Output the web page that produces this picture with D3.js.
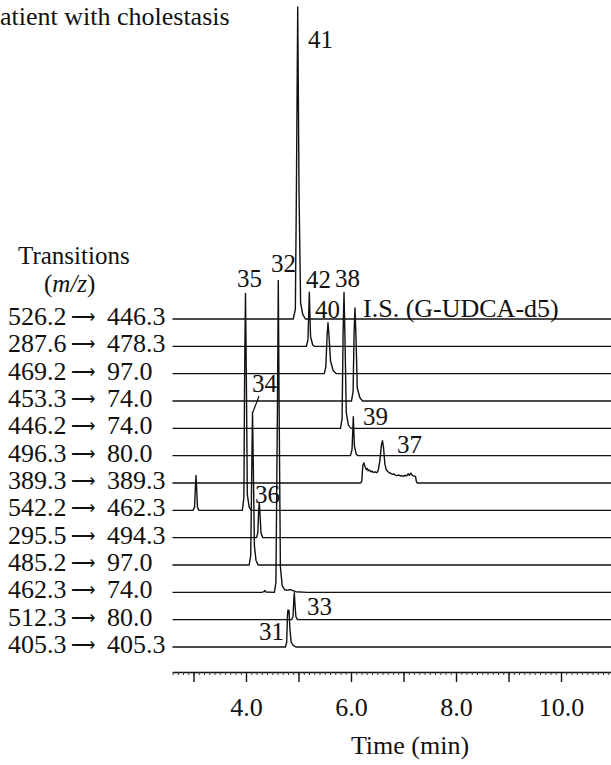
<!DOCTYPE html>
<html>
<head>
<meta charset="utf-8">
<script src="https://cdn.jsdelivr.net/npm/d3@7"></script>
<style>
  body { margin: 0; background: #fff; }
  text { font-family: "Liberation Serif", "Times New Roman", serif; fill: #111; }
</style>
</head>
<body>
<svg id="chart"></svg>
<script>
// Config
const width = 611;
const height = 765;

// MRM transitions, top to bottom
const precursors = ["526.2", "287.6", "469.2", "453.3", "446.2", "496.3", "389.3",
  "542.2", "295.5", "485.2", "462.3", "512.3", "405.3"];
const products = ["446.3", "478.3", "97.0", "74.0", "74.0", "80.0", "389.3",
  "462.3", "494.3", "97.0", "74.0", "80.0", "405.3"];

// trace points per transition: [time (min), intensity]
const trace0 = [[4.90, 0], [4.94, 3], [4.96, 40], [4.985, 97.5], [5.01, 40], [5.04, 5], [5.08, 1.5], [5.13, 0]];
const trace1 = [[5.15, 0], [5.18, 2], [5.206, 16.9], [5.23, 3], [5.27, 0.5], [5.30, 0]];
const trace2 = [[5.49, 0], [5.52, 2], [5.545, 12], [5.562, 15.9], [5.58, 12], [5.61, 4], [5.66, 1], [5.72, 0]];
const trace3 = [[6.01, 0], [6.04, 3], [6.06, 22], [6.076, 29.1], [6.095, 20], [6.12, 4], [6.17, 1], [6.22, 0]];
const trace4 = [[5.80, 0], [5.83, 3], [5.85, 30], [5.867, 42.5], [5.885, 28], [5.91, 5], [5.95, 1], [6.00, 0]];
const trace5 = [[5.99, 0], [6.02, 2], [6.044, 12.2], [6.065, 3], [6.10, 0.5], [6.13, 0]];
const trace6 = [[6.18, 0], [6.205, 0.5], [6.225, 5.5], [6.245, 6.3], [6.27, 5.0], [6.29, 4.2], [6.31, 4.5],
  [6.33, 3.8], [6.35, 4.1], [6.38, 3.5], [6.40, 3.7], [6.43, 3.3], [6.46, 3.5], [6.49, 3.2], [6.52, 4],
  [6.55, 7], [6.58, 12], [6.60, 13.2], [6.62, 11], [6.645, 6], [6.67, 4.2], [6.70, 3.6], [6.73, 3.2],
  [6.76, 3.0], [6.79, 2.7], [6.82, 2.8], [6.85, 2.4], [6.88, 2.3], [6.91, 2.5], [6.94, 2.2], [6.97, 2.3],
  [7.00, 2.1], [7.03, 2.4], [7.06, 2.2], [7.09, 2.9], [7.11, 2.4], [7.14, 3.1], [7.17, 2.3], [7.20, 2.2],
  [7.23, 2.0], [7.245, 0.5], [7.26, 0]];
const trace7 = [[2.99, 0], [3.02, 1], [3.036, 7], [3.048, 10.9], [3.06, 7], [3.075, 1], [3.10, 0],
  [3.93, 0], [3.96, 4], [3.975, 45], [3.99, 67.8], [4.005, 45], [4.025, 5], [4.06, 1], [4.10, 0]];
const trace8 = [[4.20, 0], [4.225, 1.5], [4.24, 8], [4.253, 10.9], [4.268, 7], [4.285, 1.5], [4.32, 0]];
const trace9 = [[4.06, 0], [4.09, 3], [4.11, 30], [4.124, 47.8], [4.14, 30], [4.16, 6], [4.19, 1.5], [4.23, 0]];
const trace10 = [[4.30, 0], [4.34, 0.2], [4.36, 0.6], [4.38, 0.1], [4.54, 0], [4.57, 3], [4.60, 60],
  [4.615, 97.5], [4.63, 60], [4.655, 8], [4.69, 2], [4.74, 0.8], [4.80, 0.6], [4.84, 0.9], [4.88, 0.6],
  [4.95, 0.2], [5.16, 0]];
const trace11 = [[4.87, 0], [4.895, 1], [4.91, 6], [4.92, 8.4], [4.932, 5], [4.95, 1], [4.98, 0]];
const trace12 = [[4.75, 0], [4.775, 1.5], [4.79, 10], [4.80, 11.6], [4.81, 10.5], [4.82, 11.4], [4.835, 6],
  [4.86, 1.5], [4.90, 0.5], [4.95, 0]];
const traces = [trace0, trace1, trace2, trace3, trace4, trace5, trace6, trace7, trace8, trace9, trace10, trace11, trace12];

// peak labels: [text, time of left edge, trace index, intensity of text baseline]
const peakLabels = [
  ["41", 5.181, 0, 84.7], ["35", 3.829, 7, 69.7], ["32", 4.476, 10, 100], ["42", 5.143, 1, 18.1],
  ["38", 5.695, 4, 44.1], ["40", 5.314, 2, 17.5], ["I.S. (G-UDCA-d5)", 6.229, 3, 26.3],
  ["34", 4.114, 9, 54.1], ["39", 6.229, 5, 9.7], ["37", 6.876, 6, 9.4], ["36", 4.171, 8, 10.9],
  ["33", 5.162, 11, 1.6], ["31", 4.248, 12, 2.2]
];
// leader for 34: [time, intensity] pairs on trace 9
const leader34 = [[4.248, 52.8], [4.133, 47.8]];

const timeDomain = [2.6, 11];
const majorTicks = [3, 4, 5, 6, 7, 8, 9, 10, 11];
const tickLabels = { 4: "4.0", 6: "6.0", 8: "8.0", 10: "10.0" };

const svg = d3.select("#chart").attr("width", width).attr("height", height);

const x = d3.scaleLinear().domain(timeDomain).range([172.5, 613.5]);
const row = d3.scaleLinear().domain([0, precursors.length - 1]).range([319, 647]);
const amp = d3.scaleLinear().domain([0, 100]).range([0, 320]);

// title (cropped in the source figure)
svg.append("text").attr("x", 0).attr("y", 25).attr("font-size", 26).text("atient with cholestasis");

// left header
svg.append("text").attr("x", 18).attr("y", 264).attr("font-size", 25).text("Transitions");
const mz = svg.append("text").attr("x", 44).attr("y", 292).attr("font-size", 25);
mz.append("tspan").text("(");
mz.append("tspan").attr("font-style", "italic").text("m/z");
mz.append("tspan").text(")");

// transition labels
precursors.forEach((p, i) => {
  const y = row(i) + 6;
  svg.append("text").attr("x", 8).attr("y", y).attr("font-size", 26).text(p);
  svg.append("text")
    .attr("x", 71).attr("y", y - 2)
    .attr("font-family", "DejaVu Sans, sans-serif")
    .attr("font-size", 17)
    .attr("fill", "#555")
    .text("\u27F6");
  svg.append("text").attr("x", 107).attr("y", y).attr("font-size", 26).text(products[i]);
});

// traces
traces.forEach((pts, i) => {
  const full = [[timeDomain[0], 0]].concat(pts, [[timeDomain[1], 0]]);
  const line = d3.line()
    .x(d => x(d[0]))
    .y(d => row(i) - amp(d[1]));
  svg.append("path")
    .attr("d", line(full))
    .attr("fill", "none")
    .attr("stroke", "#111")
    .attr("stroke-width", 1.4)
    .attr("stroke-linejoin", "round");
});

// peak labels
peakLabels.forEach(p => {
  svg.append("text")
    .attr("x", x(p[1]))
    .attr("y", row(p[2]) - amp(p[3]))
    .attr("font-size", p[0].length > 2 ? 26 : 25)
    .text(p[0]);
});
svg.append("line")
  .attr("x1", x(leader34[0][0])).attr("y1", row(9) - amp(leader34[0][1]))
  .attr("x2", x(leader34[1][0])).attr("y2", row(9) - amp(leader34[1][1]))
  .attr("stroke", "#111").attr("stroke-width", 1.2);

// time axis
const axisY = 672;
const minorAxis = d3.axisBottom(x)
  .tickValues(d3.range(26, 111).map(d => d / 10))
  .tickSize(3).tickSizeOuter(0).tickFormat("");
const gMinor = svg.append("g").attr("transform", `translate(0,${axisY})`).call(minorAxis);
gMinor.select(".domain").attr("stroke", "#111").attr("stroke-width", 1.4);
gMinor.selectAll(".tick line").attr("stroke", "#333").attr("stroke-width", 1);

const majorAxis = d3.axisBottom(x)
  .tickValues(majorTicks)
  .tickSize(10).tickSizeOuter(0).tickPadding(16)
  .tickFormat(d => tickLabels[d] || "");
const gMajor = svg.append("g").attr("transform", `translate(0,${axisY})`).call(majorAxis);
gMajor.select(".domain").remove();
gMajor.selectAll(".tick line").attr("stroke", "#111").attr("stroke-width", 1.4);
gMajor.selectAll(".tick text")
  .attr("font-family", "Liberation Serif, serif")
  .attr("font-size", 26)
  .attr("fill", "#111");

svg.append("text")
  .attr("x", 410).attr("y", 754)
  .attr("text-anchor", "middle")
  .attr("font-size", 26)
  .text("Time (min)");
</script>
</body>
</html>
